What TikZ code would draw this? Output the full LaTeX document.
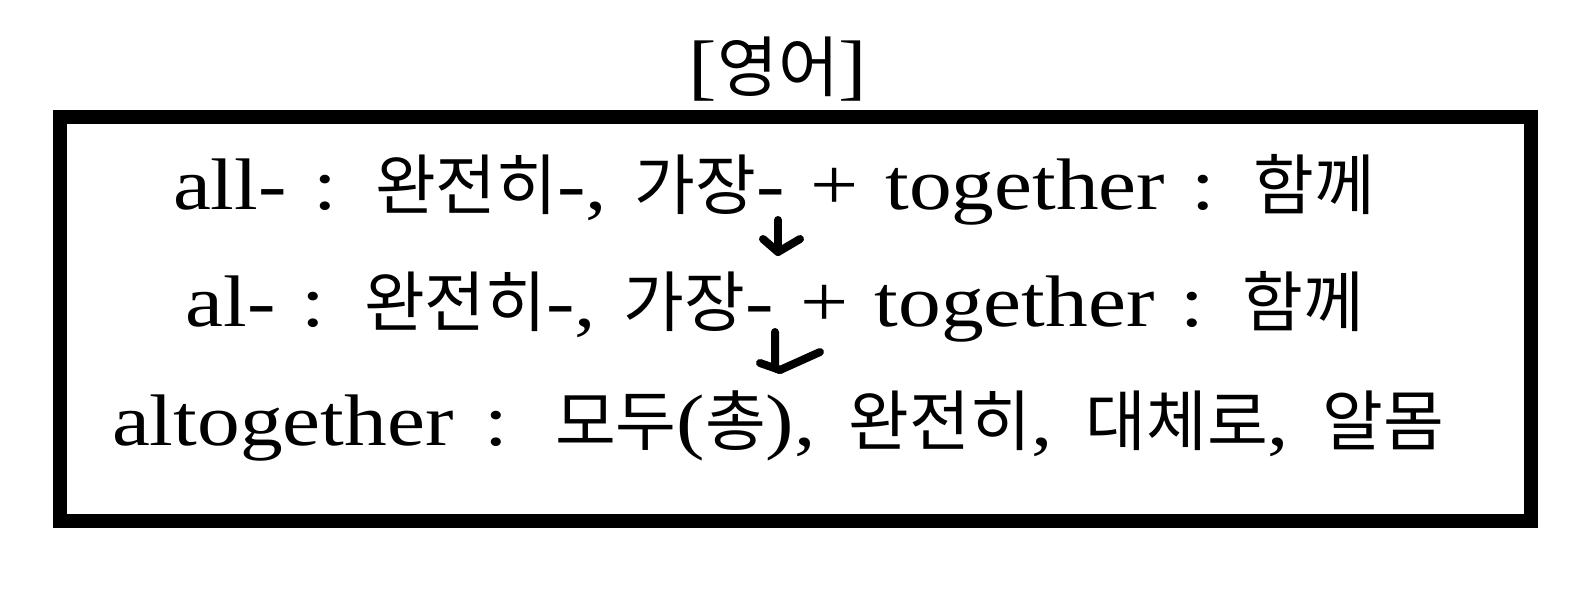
\documentclass[tikz,border=0pt]{standalone}
\usepackage{fontspec}
\setmainfont{Liberation Serif}[FakeStretch=1.17]
\newfontfamily\kr{Noto Sans CJK KR}[Scale=0.905]
\begin{document}
\begin{tikzpicture}[x=1pt,y=-1pt,
  txt/.style={font=\fontsize{73}{80}\selectfont, inner sep=0pt, anchor=base},
  frame/.style={draw=black, line width=14pt},
  arr/.style={line width=8pt, line cap=round, line join=round}]
\useasboundingbox (0,0) rectangle (1585,600);
\node[txt] (title) at (778,91) {[{\kr 영어}]};
\draw[frame] (60,117) rectangle (1531,521);
\node[txt] (l1) at (774,209) {\makebox[1202pt][s]{all- : {\kr 완전히}-, {\kr 가장}- + together : {\kr 함께}}};
\node[txt] (l2) at (775,326) {\makebox[1179pt][s]{al- : {\kr 완전히}-, {\kr 가장}- + together : {\kr 함께}}};
\node[txt] (l3) at (778,445) {\makebox[1332pt][s]{altogether : {\kr 모두}({\kr 총}), {\kr 완전히}, {\kr 대체로}, {\kr 알몸}}};
% arrow 1
\coordinate (a1s) at (778,220);
\coordinate (a1t) at (778,252);
\coordinate (a1l) at (763,239);
\coordinate (a1r) at (800,239);
\draw[arr] (a1s) -- (a1t);
\draw[arr] (a1l) -- (a1t) -- (a1r);
% arrow 2
\coordinate (a2s) at (775,332);
\coordinate (a2b) at (780,370);
\coordinate (a2l) at (760,363);
\coordinate (a2r) at (820,352);
\draw[arr] (a2s) -- (775,368) -- (a2b);
\draw[arr] (a2l) -- (a2b) -- (a2r);
\end{tikzpicture}
\end{document}
